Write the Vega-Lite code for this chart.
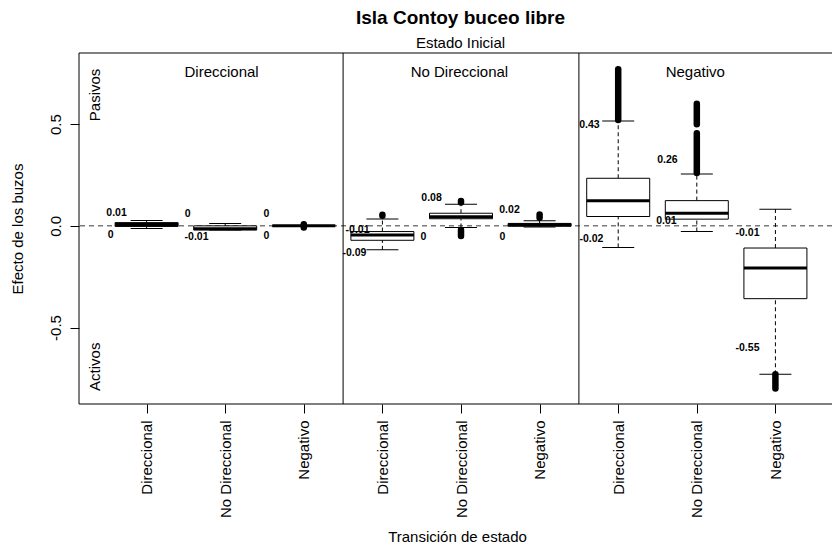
{
  "$schema": "https://vega.github.io/schema/vega-lite/v6.json",
  "width": 753,
  "height": 351,
  "autosize": {"type": "none"},
  "padding": {"left": 79, "top": 53, "right": 0, "bottom": 141},
  "background": "white",
  "title": {
    "text": "Isla Contoy buceo libre",
    "subtitle": "Estado Inicial",
    "font": "Liberation Sans",
    "subtitleFont": "Liberation Sans",
    "fontSize": 19,
    "subtitleFontSize": 15,
    "fontWeight": "bold",
    "color": "black",
    "subtitleColor": "black",
    "anchor": "middle",
    "offset": 2,
    "subtitlePadding": 8,
    "dx": 5
  },
  "datasets": {
    "boxes": [
      {"pos": 1, "lo": -0.013, "q1": -0.003, "med": 0.007, "q3": 0.016, "hi": 0.026},
      {"pos": 2, "lo": -0.02, "q1": -0.02, "med": -0.014, "q3": 0.0, "hi": 0.011},
      {"pos": 3, "lo": 0.0, "q1": 0.0, "med": 0.0, "q3": 0.0, "hi": 0.0},
      {"pos": 4, "lo": -0.118, "q1": -0.071, "med": -0.045, "q3": -0.028, "hi": 0.034},
      {"pos": 5, "lo": -0.008, "q1": 0.035, "med": 0.045, "q3": 0.062, "hi": 0.106},
      {"pos": 6, "lo": -0.006, "q1": -0.002, "med": 0.006, "q3": 0.012, "hi": 0.025},
      {"pos": 7, "lo": -0.106, "q1": 0.046, "med": 0.124, "q3": 0.234, "hi": 0.516},
      {"pos": 8, "lo": -0.028, "q1": 0.033, "med": 0.062, "q3": 0.124, "hi": 0.255},
      {"pos": 9, "lo": -0.73, "q1": -0.358, "med": -0.207, "q3": -0.109, "hi": 0.082}
    ],
    "outliers": [
      {"pos": 3, "from": -0.008, "to": 0.008},
      {"pos": 4, "from": 0.05, "to": 0.055},
      {"pos": 5, "from": 0.115, "to": 0.122},
      {"pos": 5, "from": -0.02, "to": -0.05},
      {"pos": 6, "from": 0.04, "to": 0.056},
      {"pos": 7, "from": 0.52, "to": 0.77},
      {"pos": 8, "from": 0.26, "to": 0.455},
      {"pos": 8, "from": 0.5, "to": 0.6},
      {"pos": 9, "from": -0.73, "to": -0.8}
    ],
    "labels": [
      {"x": 0.618, "y": 0.064, "t": "0.01"},
      {"x": 0.542, "y": -0.044, "t": "0"},
      {"x": 1.521, "y": 0.059, "t": "0"},
      {"x": 1.636, "y": -0.054, "t": "-0.01"},
      {"x": 2.526, "y": 0.059, "t": "0"},
      {"x": 2.526, "y": -0.049, "t": "0"},
      {"x": 4.625, "y": 0.138, "t": "0.08"},
      {"x": 3.684, "y": -0.02, "t": "-0.01"},
      {"x": 3.645, "y": -0.133, "t": "-0.09"},
      {"x": 4.523, "y": -0.054, "t": "0"},
      {"x": 5.617, "y": 0.079, "t": "0.02"},
      {"x": 5.528, "y": -0.054, "t": "0"},
      {"x": 6.634, "y": 0.496, "t": "0.43"},
      {"x": 6.66, "y": -0.064, "t": "-0.02"},
      {"x": 7.627, "y": 0.324, "t": "0.26"},
      {"x": 7.614, "y": 0.025, "t": "0.01"},
      {"x": 8.645, "y": -0.034, "t": "-0.01"},
      {"x": 8.645, "y": -0.6, "t": "-0.55"}
    ],
    "headers": [
      {"x": 1.954, "y": 0.757, "t": "Direccional"},
      {"x": 4.98, "y": 0.757, "t": "No Direccional"},
      {"x": 7.98, "y": 0.757, "t": "Negativo"}
    ],
    "sides": [
      {"x": 0.338, "y": 0.644, "t": "Pasivos"},
      {"x": 0.338, "y": -0.693, "t": "Activos"}
    ],
    "separators": [{"x": 0.14}, {"x": 3.5}, {"x": 6.5}],
    "frame": [{"y": 0.85}, {"y": -0.876}],
    "zero": [{"y": 0}]
  },
  "layer": [
    {
      "data": {"name": "zero"},
      "mark": {"type": "rule", "color": "#7a7a7a", "strokeWidth": 1.5, "strokeDash": [5, 4]},
      "encoding": {
        "y": {
          "field": "y", "type": "quantitative",
          "scale": {"domain": [-0.876, 0.85], "nice": false, "zero": false, "padding": 0},
          "axis": {
            "values": [-0.5, 0, 0.5],
            "labelExpr": "datum.value == 0 ? '0.0' : (datum.value > 0 ? '0.5' : '-0.5')",
            "labelAngle": 270, "labelAlign": "center", "labelBaseline": "alphabetic", "labelPadding": 10,
            "tickSize": 9, "title": "Efecto de los buzos", "titleAngle": 270, "titleX": -57, "titleBaseline": "alphabetic"
          }
        }
      }
    },
    {
      "data": {"name": "frame"},
      "mark": {"type": "rule", "color": "black", "strokeWidth": 1},
      "encoding": {
        "y": {"field": "y", "type": "quantitative", "scale": {"domain": [-0.876, 0.85], "nice": false, "zero": false, "padding": 0}, "title": "Efecto de los buzos"}
      }
    },
    {
      "data": {"name": "separators"},
      "mark": {"type": "rule", "color": "black", "strokeWidth": 1},
      "encoding": {
        "x": {
          "field": "x", "type": "quantitative",
          "scale": {"domain": [0.14, 9.72], "nice": false, "zero": false, "padding": 0},
          "axis": {
            "values": [1, 2, 3, 4, 5, 6, 7, 8, 9],
            "labelExpr": "datum.value % 3 == 1 ? 'Direccional' : (datum.value % 3 == 2 ? 'No Direccional' : 'Negativo')",
            "labelAngle": 270, "labelAlign": "right", "labelBaseline": "middle", "labelPadding": 7,
            "labelOverlap": false, "labelBound": false, "labelFlush": false, "tickSize": 9,
            "title": "Transición de estado", "titleX": 378, "titleY": 137, "titleAlign": "center", "titleBaseline": "alphabetic"
          }
        }
      }
    },
    {
      "data": {"name": "boxes"},
      "mark": {"type": "rule", "color": "black", "strokeWidth": 1, "strokeDash": [4, 3]},
      "encoding": {
        "x": {"field": "pos", "type": "quantitative", "scale": {"domain": [0.14, 9.72], "nice": false, "zero": false, "padding": 0}, "title": "Transición de estado"},
        "y": {"field": "q3", "type": "quantitative", "scale": {"domain": [-0.876, 0.85], "nice": false, "zero": false, "padding": 0}, "title": "Efecto de los buzos"},
        "y2": {"field": "hi"}
      }
    },
    {
      "data": {"name": "boxes"},
      "mark": {"type": "rule", "color": "black", "strokeWidth": 1, "strokeDash": [4, 3]},
      "encoding": {
        "x": {"field": "pos", "type": "quantitative", "scale": {"domain": [0.14, 9.72], "nice": false, "zero": false, "padding": 0}, "title": "Transición de estado"},
        "y": {"field": "lo", "type": "quantitative", "scale": {"domain": [-0.876, 0.85], "nice": false, "zero": false, "padding": 0}, "title": "Efecto de los buzos"},
        "y2": {"field": "q1"}
      }
    },
    {
      "data": {"name": "boxes"},
      "mark": {"type": "bar", "size": 63, "fill": "white", "stroke": "black", "strokeWidth": 1, "orient": "vertical"},
      "encoding": {
        "x": {"field": "pos", "type": "quantitative", "scale": {"domain": [0.14, 9.72], "nice": false, "zero": false, "padding": 0}, "title": "Transición de estado"},
        "y": {"field": "q1", "type": "quantitative", "scale": {"domain": [-0.876, 0.85], "nice": false, "zero": false, "padding": 0}, "title": "Efecto de los buzos"},
        "y2": {"field": "q3"}
      }
    },
    {
      "data": {"name": "boxes"},
      "mark": {"type": "tick", "orient": "horizontal", "size": 63, "thickness": 3, "color": "black", "opacity": 1},
      "encoding": {
        "x": {"field": "pos", "type": "quantitative", "scale": {"domain": [0.14, 9.72], "nice": false, "zero": false, "padding": 0}, "title": "Transición de estado"},
        "y": {"field": "med", "type": "quantitative", "scale": {"domain": [-0.876, 0.85], "nice": false, "zero": false, "padding": 0}, "title": "Efecto de los buzos"}
      }
    },
    {
      "data": {"name": "boxes"},
      "mark": {"type": "tick", "orient": "horizontal", "size": 32, "thickness": 1, "color": "black", "opacity": 1},
      "encoding": {
        "x": {"field": "pos", "type": "quantitative", "scale": {"domain": [0.14, 9.72], "nice": false, "zero": false, "padding": 0}, "title": "Transición de estado"},
        "y": {"field": "hi", "type": "quantitative", "scale": {"domain": [-0.876, 0.85], "nice": false, "zero": false, "padding": 0}, "title": "Efecto de los buzos"}
      }
    },
    {
      "data": {"name": "boxes"},
      "mark": {"type": "tick", "orient": "horizontal", "size": 32, "thickness": 1, "color": "black", "opacity": 1},
      "encoding": {
        "x": {"field": "pos", "type": "quantitative", "scale": {"domain": [0.14, 9.72], "nice": false, "zero": false, "padding": 0}, "title": "Transición de estado"},
        "y": {"field": "lo", "type": "quantitative", "scale": {"domain": [-0.876, 0.85], "nice": false, "zero": false, "padding": 0}, "title": "Efecto de los buzos"}
      }
    },
    {
      "data": {"name": "outliers"},
      "mark": {"type": "rule", "color": "black", "strokeWidth": 6.5, "strokeCap": "round"},
      "encoding": {
        "x": {"field": "pos", "type": "quantitative", "scale": {"domain": [0.14, 9.72], "nice": false, "zero": false, "padding": 0}, "title": "Transición de estado"},
        "y": {"field": "from", "type": "quantitative", "scale": {"domain": [-0.876, 0.85], "nice": false, "zero": false, "padding": 0}, "title": "Efecto de los buzos"},
        "y2": {"field": "to"}
      }
    },
    {
      "data": {"name": "labels"},
      "mark": {"type": "text", "font": "Liberation Sans", "fontWeight": "bold", "fontSize": 10.5, "color": "black", "align": "center", "baseline": "middle"},
      "encoding": {
        "x": {"field": "x", "type": "quantitative", "scale": {"domain": [0.14, 9.72], "nice": false, "zero": false, "padding": 0}, "title": "Transición de estado"},
        "y": {"field": "y", "type": "quantitative", "scale": {"domain": [-0.876, 0.85], "nice": false, "zero": false, "padding": 0}, "title": "Efecto de los buzos"},
        "text": {"field": "t"}
      }
    },
    {
      "data": {"name": "headers"},
      "mark": {"type": "text", "font": "Liberation Sans", "fontSize": 15, "color": "black", "align": "center", "baseline": "middle"},
      "encoding": {
        "x": {"field": "x", "type": "quantitative", "scale": {"domain": [0.14, 9.72], "nice": false, "zero": false, "padding": 0}, "title": "Transición de estado"},
        "y": {"field": "y", "type": "quantitative", "scale": {"domain": [-0.876, 0.85], "nice": false, "zero": false, "padding": 0}, "title": "Efecto de los buzos"},
        "text": {"field": "t"}
      }
    },
    {
      "data": {"name": "sides"},
      "mark": {"type": "text", "font": "Liberation Sans", "fontSize": 15, "color": "black", "align": "center", "baseline": "middle", "angle": 270},
      "encoding": {
        "x": {"field": "x", "type": "quantitative", "scale": {"domain": [0.14, 9.72], "nice": false, "zero": false, "padding": 0}, "title": "Transición de estado"},
        "y": {"field": "y", "type": "quantitative", "scale": {"domain": [-0.876, 0.85], "nice": false, "zero": false, "padding": 0}, "title": "Efecto de los buzos"},
        "text": {"field": "t"}
      }
    }
  ],
  "config": {
    "view": {"stroke": null},
    "axis": {
      "labelFont": "Liberation Sans",
      "titleFont": "Liberation Sans",
      "labelFontSize": 15,
      "titleFontSize": 15,
      "titleFontWeight": "normal",
      "labelColor": "black",
      "titleColor": "black",
      "tickColor": "black",
      "tickWidth": 1,
      "domain": false,
      "grid": false
    }
  }
}
